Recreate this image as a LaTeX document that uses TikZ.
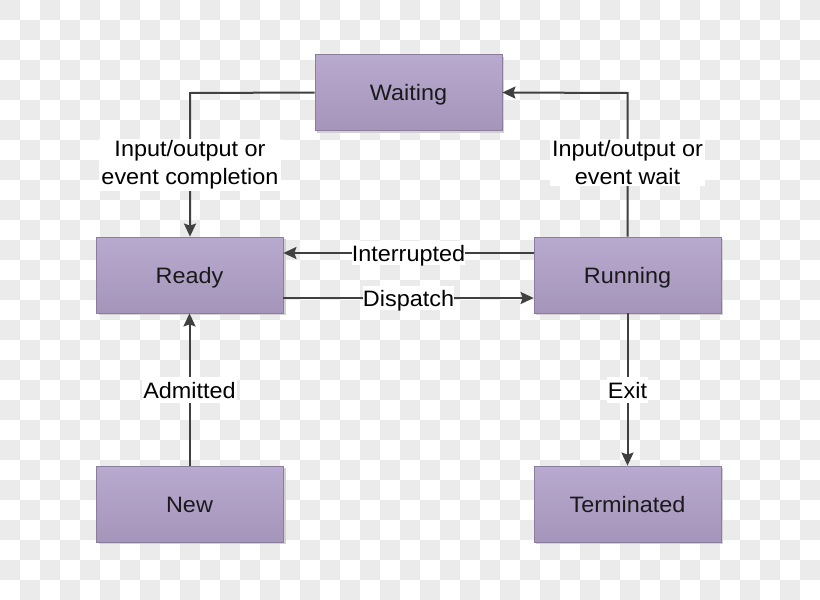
\documentclass[tikz,border=0pt]{standalone}
\usepackage{fontspec}
\setmainfont[FakeStretch=1.05]{Liberation Sans}
\usetikzlibrary{arrows.meta}
\definecolor{checker}{HTML}{EBEBEB}
\definecolor{boxtop}{HTML}{B8A9CF}
\definecolor{boxbot}{HTML}{A595BB}
\definecolor{boxline}{HTML}{8A7E9C}
\definecolor{linecol}{HTML}{404040}
\definecolor{txtcol}{HTML}{1A1A1A}
\begin{document}
\begin{tikzpicture}[x=1pt,y=-1pt,
  state/.style={draw=boxline,line width=0.8pt,top color=boxtop,bottom color=boxbot,
    minimum width=187pt,minimum height=76pt,inner sep=0pt,text=txtcol,
    text height=16pt,text depth=0pt,
    font=\fontsize{22.3}{26}\selectfont},
  shade/.style={fill=black!18,draw=none,minimum width=187pt,minimum height=76pt,inner sep=0pt},
  conn/.style={draw=linecol,line width=2pt},
  arr/.style={conn,-{Stealth[length=13pt,width=12pt,inset=2pt]}},
  lbl/.style={fill=white,inner sep=0pt,text=black,align=center,
    text height=20pt,text depth=4pt,
    font=\fontsize{22.3}{27.6}\selectfont},
  mlbl/.style={fill=white,inner sep=2pt,text=black,align=center,
    font=\fontsize{22.3}{27.6}\selectfont}]
\useasboundingbox (0,0) rectangle (820,600);
\fill[white] (0,0) rectangle (820,600);
\foreach \i in {0,40,...,800} \foreach \j in {0,40,...,560} {
  \fill[checker] (\i,\j) rectangle +(20,20);
  \fill[checker] (\i+20,\j+20) rectangle +(20,20);
}
% shadows
\foreach \p in {(410,95),(192,277),(629,277),(192,506),(629,506)}
  \node[shade] at \p {};
% states
\node[state] (waiting) at (408.5,92.5) {Waiting};
\node[state] (ready) at (189.5,275) {Ready};
\node[state] (running) at (627.5,275) {Running};
\node[state] (new) at (189.5,504) {New};
\node[state] (term) at (627.5,504) {Terminated};
% corners
\coordinate (c1) at (190,93);
\coordinate (c2) at (627.5,93);
% connectors
\draw[arr] (waiting.west) -- (c1) -- (ready.north -| c1);
\draw[arr] (running.north) -- (c2) -- (waiting.east);
\draw[arr] ([yshift=22pt]running.west) -- node[lbl] (lint) {Interrupted} ([yshift=22pt]ready.east);
\draw[arr] ([yshift=-23pt]ready.east) -- node[lbl] (ldis) {Dispatch} ([yshift=-23pt]running.west);
\draw[arr] (new.north) -- (ready.south);
\draw[arr] (running.south) -- (term.north);
% labels
\node[mlbl] (lcomp) at (190,165) {Input/output or\\event completion};
\node[mlbl] (lwait) at (627.5,162.5) {Input/output or\\event wait};
\node[lbl,inner sep=1pt] (ladm) at (189.5,390) {Admitted};
\node[lbl,inner sep=1pt] (lexit) at (627.5,390) {Exit};
\end{tikzpicture}
\end{document}
